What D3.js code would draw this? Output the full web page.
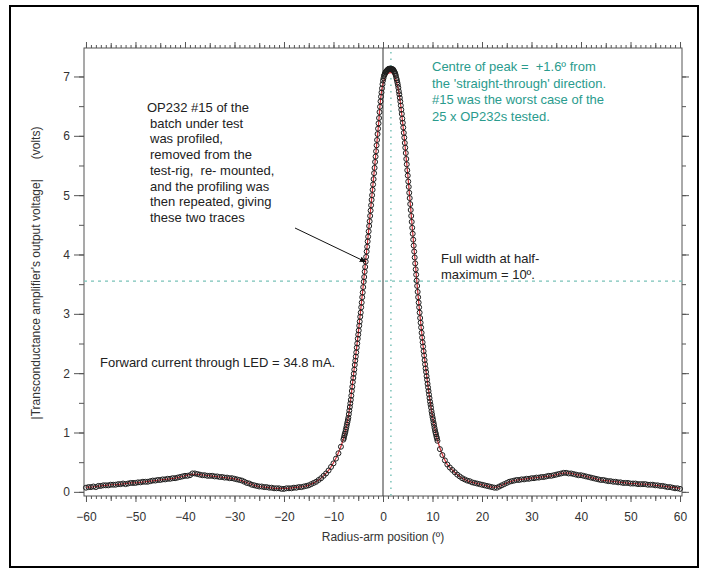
<!DOCTYPE html>
<html>
<head>
<meta charset="utf-8">
<script src="https://cdn.jsdelivr.net/npm/d3@7"></script>
<style>
  body { margin: 0; background: #fff; }
  svg text { font-family: "Liberation Sans", Arial, sans-serif; }
</style>
</head>
<body>
<div id="chart"></div>
<script>
'use strict';

// black-circle trace, left tail: -60 .. -8.5 every 0.5 deg
const leftStart = -60, leftStep = 0.5;
const leftVolts = [
  .07,.08,.08,.09,.08,.10,.10,.11,.11,.11,.12,.12,.12,.13,.13,.14,.13,.14,.15,.15,
  .15,.16,.16,.17,.17,.17,.18,.19,.19,.20,.20,.21,.21,.22,.22,.23,.23,.24,.25,.26,
  .27,.27,.28,.31,.31,.30,.29,.28,.28,.27,.27,.27,.26,.26,.25,.25,.24,.24,.23,.23,
  .22,.21,.20,.19,.17,.15,.14,.12,.11,.10,.09,.09,.08,.08,.07,.07,.06,.06,.06,.05,
  .05,.06,.06,.06,.07,.07,.08,.08,.09,.10,.11,.13,.15,.17,.20,.23,.27,.31,.36,.42,
  .48,.56,.65,.76
];

// peak: -8 .. 11 every 0.1 deg
const peakStart = -8, peakStep = 0.1;
const peakVolts = [
  .88,.91,.95,.98,1.01, 1.05,1.09,1.13,1.17,1.21, 1.25,1.31,1.37,1.43,1.49,
  1.55,1.62,1.70,1.77,1.85, 1.92,1.99,2.06,2.14,2.21, 2.28,2.35,2.43,2.50,2.58,
  2.65,2.72,2.80,2.87,2.95, 3.02,3.11,3.19,3.28,3.36, 3.45,3.54,3.62,3.71,3.79,
  3.88,3.96,4.05,4.13,4.22, 4.30,4.39,4.48,4.56,4.65, 4.74,4.83,4.92,5.00,5.09,
  5.18,5.27,5.37,5.46,5.56, 5.65,5.74,5.84,5.93,6.03, 6.12,6.21,6.30,6.40,6.49,
  6.58,6.66,6.73,6.80,6.87, 6.93,6.97,7.01,7.03,7.05, 7.07,7.08,7.09,7.10,7.11,
  7.12,7.12,7.13,7.13,7.13, 7.13,7.13,7.13,7.12,7.12, 7.12,7.11,7.09,7.08,7.06,
  7.04,7.01,6.97,6.94,6.90, 6.86,6.81,6.75,6.70,6.64, 6.58,6.51,6.44,6.37,6.29,
  6.22,6.14,6.05,5.97,5.88, 5.80,5.71,5.61,5.52,5.42, 5.33,5.23,5.14,5.04,4.95,
  4.85,4.75,4.65,4.55,4.45, 4.35,4.25,4.15,4.05,3.95, 3.85,3.75,3.66,3.56,3.47,
  3.37,3.28,3.19,3.11,3.02, 2.93,2.85,2.77,2.68,2.60, 2.52,2.45,2.37,2.30,2.22,
  2.15,2.08,2.02,1.95,1.89, 1.82,1.76,1.70,1.64,1.58, 1.52,1.47,1.42,1.36,1.31,
  1.26,1.22,1.17,1.13,1.08, 1.04,1.00,.97,.93,.90, .86
];

// right tail: 11.5 .. 60 every 0.5 deg
const rightStart = 11.5, rightStep = 0.5;
const rightVolts = [
  .72,.62,.53,.46,.41,.37,.33,.29,.26,.23,.21,.19,.18,.16,.15,.14,.13,.12,.11,.10,
  .09,.08,.07,.07,.09,.11,.13,.15,.17,.18,.19,.20,.20,.21,.21,.22,.22,.23,.23,.24,
  .24,.25,.25,.26,.27,.27,.28,.29,.30,.31,.32,.32,.31,.31,.30,.29,.28,.28,.27,.26,
  .25,.24,.23,.22,.21,.20,.20,.19,.18,.18,.17,.17,.16,.16,.15,.15,.15,.14,.14,.14,
  .13,.13,.13,.13,.12,.12,.12,.11,.11,.10,.10,.09,.08,.08,.07,.06,.06,.05
];

// repeat run (red trace), every 1 deg from -60 to 60
const repeatStart = -60, repeatStep = 1;
const repeatVolts = [
  .08,.08,.09,.10,.11,.12,.12,.13,.14,.15,.15,.16,.17,.18,.19,.20,.21,.22,.23,.25,
  .27,.29,.30,.29,.28,.27,.26,.25,.24,.23,.22,.20,.17,.14,.11,.09,.08,.07,.06,.06,
  .06,.06,.07,.08,.09,.11,.15,.20,.27,.36,.49,.66,.89,1.27,1.94,2.67,3.47,4.32,5.20,6.10,
  6.88,7.05,7.05,6.82,6.20,5.35,4.37,3.39,2.54,1.84,1.27,.87,.63,.46,.37,.29,.23,.19,.16,.14,
  .12,.10,.08,.08,.11,.15,.18,.20,.21,.22,.23,.24,.25,.26,.27,.29,.31,.32,.31,.29,
  .28,.26,.24,.22,.20,.19,.18,.17,.16,.15,.14,.14,.13,.13,.12,.11,.10,.09,.08,.07,.06
];

const xMajor = [-60, -50, -40, -30, -20, -10, 0, 10, 20, 30, 40, 50, 60];
const yMajor = [0, 1, 2, 3, 4, 5, 6, 7];

const peakCentre = 1.6;
const halfMax = 3.55;

const noteLeft = [
  'OP232 #15 of the',
  'batch under test',
  'was profiled,',
  'removed from the',
  'test-rig,  re- mounted,',
  'and the profiling was',
  'then repeated, giving',
  'these two traces'
];
const noteCentre = [
  'Centre of peak =  +1.6º from',
  "the 'straight-through' direction.",
  '#15 was the worst case of the',
  '25 x OP232s tested.'
];
const noteWidth = ['Full width at half-', 'maximum = 10º.'];
const noteCurrent = 'Forward current through LED = 34.8 mA.';

function toPoints(start, step, vals) {
  return vals.map((v, i) => ({ x: +(start + i * step).toFixed(2), v: v }));
}

const blackPts = []
  .concat(toPoints(leftStart, leftStep, leftVolts))
  .concat(toPoints(peakStart, peakStep, peakVolts))
  .concat(toPoints(rightStart, rightStep, rightVolts));
const redPts = toPoints(repeatStart, repeatStep, repeatVolts);

const width = 706, height = 575;
const box = { left: 84, right: 682, top: 48, bottom: 496 };
const teal = '#2a9b8d';
const tealLine = '#79c2b8';

const svg = d3.select('#chart').append('svg')
  .attr('width', width)
  .attr('height', height);

// outer frame
svg.append('rect')
  .attr('x', 10).attr('y', 6)
  .attr('width', 688).attr('height', 561)
  .attr('fill', 'none').attr('stroke', '#000').attr('stroke-width', 2);

const x = d3.scaleLinear().domain([-60.4, 60.4]).range([box.left, box.right]);
const y = d3.scaleLinear().domain([-0.07, 7.48]).range([box.bottom, box.top]);

const axisColor = '#555';

function styleAxis(g) {
  g.select('.domain').remove();
  g.selectAll('line').attr('stroke', axisColor);
  g.selectAll('text').attr('fill', '#333').style('font-size', '12px');
}

// minor tick values
const xMinor = d3.range(-60, 61, 1);
const xFives = d3.range(-55, 60, 10);
const yMinor = d3.range(0, 7.5, 0.5);

// bottom axis
svg.append('g').attr('transform', `translate(0,${box.bottom})`)
  .call(d3.axisBottom(x).tickValues(xMinor).tickSize(3).tickFormat(''))
  .call(styleAxis);
svg.append('g').attr('transform', `translate(0,${box.bottom})`)
  .call(d3.axisBottom(x).tickValues(xFives).tickSize(5).tickFormat(''))
  .call(styleAxis);
svg.append('g').attr('transform', `translate(0,${box.bottom})`)
  .call(d3.axisBottom(x).tickValues(xMajor).tickSize(6).tickPadding(10).tickFormat(d3.format('d')))
  .call(styleAxis);

// top axis
svg.append('g').attr('transform', `translate(0,${box.top})`)
  .call(d3.axisTop(x).tickValues(xMinor).tickSize(3).tickFormat(''))
  .call(styleAxis);
svg.append('g').attr('transform', `translate(0,${box.top})`)
  .call(d3.axisTop(x).tickValues(xFives).tickSize(5).tickFormat(''))
  .call(styleAxis);
svg.append('g').attr('transform', `translate(0,${box.top})`)
  .call(d3.axisTop(x).tickValues(xMajor).tickSize(6).tickFormat(''))
  .call(styleAxis);

// left axis
svg.append('g').attr('transform', `translate(${box.left},0)`)
  .call(d3.axisLeft(y).tickValues(yMinor).tickSize(5).tickFormat(''))
  .call(styleAxis);
svg.append('g').attr('transform', `translate(${box.left},0)`)
  .call(d3.axisLeft(y).tickValues(yMajor).tickSize(10).tickPadding(4).tickFormat(d3.format('d')))
  .call(styleAxis);

// right axis
svg.append('g').attr('transform', `translate(${box.right},0)`)
  .call(d3.axisRight(y).tickValues(yMinor).tickSize(4).tickFormat(''))
  .call(styleAxis);
svg.append('g').attr('transform', `translate(${box.right},0)`)
  .call(d3.axisRight(y).tickValues(yMajor).tickSize(7).tickFormat(''))
  .call(styleAxis);

// box outline (axis lines)
svg.append('rect')
  .attr('x', box.left).attr('y', box.top)
  .attr('width', box.right - box.left).attr('height', box.bottom - box.top)
  .attr('fill', 'none').attr('stroke', axisColor).attr('stroke-width', 1);

// axis titles
svg.append('text')
  .attr('x', x(0)).attr('y', 541)
  .attr('text-anchor', 'middle')
  .attr('fill', '#333').style('font-size', '12px')
  .text('Radius-arm position (º)');

svg.append('text')
  .attr('transform', 'translate(40,273) rotate(-90)')
  .attr('text-anchor', 'middle')
  .attr('fill', '#333').style('font-size', '12px')
  .style('white-space', 'pre')
  .attr('xml:space', 'preserve')
  .text("|Transconductance amplifier's output voltage|      (volts)");

// reference lines
svg.append('line')
  .attr('x1', box.left).attr('x2', box.right)
  .attr('y1', y(halfMax)).attr('y2', y(halfMax))
  .attr('stroke', tealLine).attr('stroke-width', 1.2)
  .attr('stroke-dasharray', '3,4');

svg.append('line')
  .attr('x1', x(0)).attr('x2', x(0))
  .attr('y1', box.top).attr('y2', box.bottom)
  .attr('stroke', '#333').attr('stroke-width', 1);

svg.append('line')
  .attr('x1', x(peakCentre)).attr('x2', x(peakCentre))
  .attr('y1', box.top + 4).attr('y2', box.bottom)
  .attr('stroke', tealLine).attr('stroke-width', 1.5)
  .attr('stroke-dasharray', '1.5,5');

// red repeat trace
const line = d3.line()
  .x(d => x(d.x))
  .y(d => y(d.v))
  .curve(d3.curveCatmullRom);

svg.append('path')
  .datum(redPts)
  .attr('d', line)
  .attr('fill', 'none')
  .attr('stroke', '#d8323a')
  .attr('stroke-width', 1.2);

// black circles trace
svg.append('g')
  .selectAll('circle')
  .data(blackPts)
  .enter().append('circle')
  .attr('cx', d => x(d.x))
  .attr('cy', d => y(d.v))
  .attr('r', 2.5)
  .attr('fill', 'none')
  .attr('stroke', '#1e1e1e')
  .attr('stroke-width', 1);

// annotations
const leftNote = svg.append('text')
  .attr('fill', '#222').style('font-size', '13px');
leftNote.selectAll('tspan').data(noteLeft).enter().append('tspan')
  .attr('x', (d, i) => i === 0 ? 147 : 150)
  .attr('y', (d, i) => 112 + i * 15.7)
  .style('white-space', 'pre')
  .text(d => d);

// arrow to the traces
svg.append('defs').append('marker')
  .attr('id', 'arrow')
  .attr('viewBox', '0 0 10 10')
  .attr('refX', 9).attr('refY', 5)
  .attr('markerWidth', 7).attr('markerHeight', 7)
  .attr('orient', 'auto')
  .append('path')
  .attr('d', 'M0,1 L10,5 L0,9 Z')
  .attr('fill', '#111');

svg.append('line')
  .attr('x1', 295).attr('y1', 228)
  .attr('x2', 366).attr('y2', 262)
  .attr('stroke', '#111').attr('stroke-width', 1)
  .attr('marker-end', 'url(#arrow)');

const centreNote = svg.append('text')
  .attr('fill', teal).style('font-size', '13px');
centreNote.selectAll('tspan').data(noteCentre).enter().append('tspan')
  .attr('x', 432)
  .attr('y', (d, i) => 71 + i * 16.7)
  .style('white-space', 'pre')
  .text(d => d);

const widthNote = svg.append('text')
  .attr('fill', '#222').style('font-size', '13px');
widthNote.selectAll('tspan').data(noteWidth).enter().append('tspan')
  .attr('x', 441)
  .attr('y', (d, i) => 263 + i * 15.5)
  .text(d => d);

svg.append('text')
  .attr('x', 100).attr('y', 367)
  .attr('fill', '#222').style('font-size', '13px')
  .text(noteCurrent);
</script>
</body>
</html>
